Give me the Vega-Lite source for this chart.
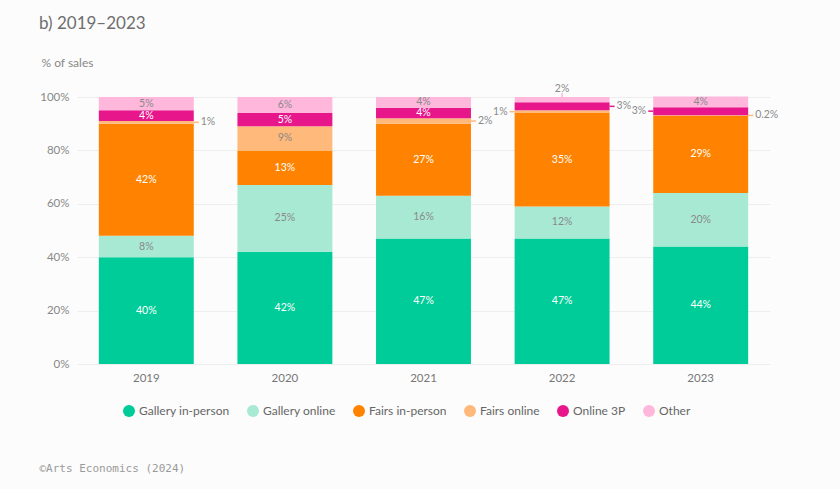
{
  "$schema": "https://vega.github.io/schema/vega-lite/v6.json",
  "width": 693,
  "height": 267,
  "autosize": "none",
  "padding": {"left": 77, "top": 97, "right": 70, "bottom": 125},
  "background": "#fcfcfc",
  "config": {"view": {"stroke": null}},
  "title": {"text": "b) 2019–2023", "anchor": "start", "frame": "group", "dx": -38, "offset": 23, "font": "Lato", "fontSize": 17, "fontWeight": "normal", "color": "#6e6e6e"},
  "data": {"values": [
    {"year": "2019", "cat": "Gallery in-person", "value": 40},
    {"year": "2019", "cat": "Gallery online", "value": 8},
    {"year": "2019", "cat": "Fairs in-person", "value": 42},
    {"year": "2019", "cat": "Fairs online", "value": 1},
    {"year": "2019", "cat": "Online 3P", "value": 4},
    {"year": "2019", "cat": "Other", "value": 5},
    {"year": "2020", "cat": "Gallery in-person", "value": 42},
    {"year": "2020", "cat": "Gallery online", "value": 25},
    {"year": "2020", "cat": "Fairs in-person", "value": 13},
    {"year": "2020", "cat": "Fairs online", "value": 9},
    {"year": "2020", "cat": "Online 3P", "value": 5},
    {"year": "2020", "cat": "Other", "value": 6},
    {"year": "2021", "cat": "Gallery in-person", "value": 47},
    {"year": "2021", "cat": "Gallery online", "value": 16},
    {"year": "2021", "cat": "Fairs in-person", "value": 27},
    {"year": "2021", "cat": "Fairs online", "value": 2},
    {"year": "2021", "cat": "Online 3P", "value": 4},
    {"year": "2021", "cat": "Other", "value": 4},
    {"year": "2022", "cat": "Gallery in-person", "value": 47},
    {"year": "2022", "cat": "Gallery online", "value": 12},
    {"year": "2022", "cat": "Fairs in-person", "value": 35},
    {"year": "2022", "cat": "Fairs online", "value": 1},
    {"year": "2022", "cat": "Online 3P", "value": 3},
    {"year": "2022", "cat": "Other", "value": 2},
    {"year": "2023", "cat": "Gallery in-person", "value": 44},
    {"year": "2023", "cat": "Gallery online", "value": 20},
    {"year": "2023", "cat": "Fairs in-person", "value": 29},
    {"year": "2023", "cat": "Fairs online", "value": 0.2},
    {"year": "2023", "cat": "Online 3P", "value": 3},
    {"year": "2023", "cat": "Other", "value": 4}
  ]},
  "transform": [
    {"calculate": "indexof(['Gallery in-person','Gallery online','Fairs in-person','Fairs online','Online 3P','Other'], datum.cat)", "as": "ord"},
    {"stack": "value", "groupby": ["year"], "sort": [{"field": "ord", "order": "ascending"}], "as": ["y0", "y1"]},
    {"calculate": "(datum.y0 + datum.y1) / 2", "as": "mid"},
    {"calculate": "datum.value + '%'", "as": "label"}
  ],
  "layer": [
    {
      "mark": {"type": "bar"},
      "encoding": {
        "x": {"field": "year", "type": "nominal", "scale": {"paddingInner": 0.315, "paddingOuter": 0.1575},
          "axis": {"title": "©Arts Economics (2024)", "titleX": -38, "titleY": 104, "titleAlign": "left", "titleBaseline": "middle", "titleFont": "DejaVu Sans Mono", "titleFontSize": 11, "titleFontWeight": "normal", "titleColor": "#9a9a9a", "labelAngle": 0, "labelFont": "Lato", "labelFontSize": 11.5, "labelColor": "#777777", "labelPadding": 8, "ticks": false, "domain": false}},
        "y": {"field": "y0", "type": "quantitative", "scale": {"domain": [0, 100], "nice": false},
          "axis": {"values": [0, 20, 40, 60, 80, 100], "labelExpr": "datum.value + '%'", "grid": true, "gridColor": "#eeeeee", "domain": false, "ticks": false, "labelPadding": 8, "labelFont": "Lato", "labelFontSize": 11.5, "labelColor": "#888888", "title": "% of sales", "titleAngle": 0, "titleX": -36, "titleY": -35, "titleAlign": "left", "titleBaseline": "middle", "titleFont": "Lato", "titleFontSize": 12, "titleFontWeight": "normal", "titleColor": "#888888"}},
        "y2": {"field": "y1"},
        "color": {"field": "cat", "type": "nominal",
          "scale": {"domain": ["Gallery in-person", "Gallery online", "Fairs in-person", "Fairs online", "Online 3P", "Other"], "range": ["#00cc99", "#a8e9d4", "#ff8300", "#ffb97a", "#e8168b", "#ffb7dc"]},
          "legend": {"title": null, "orient": "none", "legendX": 46, "legendY": 308, "direction": "horizontal", "symbolType": "circle", "symbolSize": 144, "labelFont": "Lato", "labelFontSize": 12, "labelColor": "#666666", "columnPadding": 17, "labelOffset": 4, "symbolStrokeWidth": 0}}
      }
    },
    {
      "transform": [{"filter": "datum.value >= 4 && indexof(['Gallery in-person','Fairs in-person','Online 3P'], datum.cat) >= 0"}],
      "mark": {"type": "text", "font": "Lato", "fontSize": 10.5, "color": "#ffffff", "baseline": "middle"},
      "encoding": {
        "x": {"field": "year", "type": "nominal"},
        "y": {"field": "mid", "type": "quantitative", "scale": {"domain": [0, 100], "nice": false}},
        "text": {"field": "label"}
      }
    },
    {
      "transform": [{"filter": "datum.value >= 4 && indexof(['Gallery online','Fairs online','Other'], datum.cat) >= 0"}],
      "mark": {"type": "text", "font": "Lato", "fontSize": 10.5, "color": "#8a8a8a", "baseline": "middle"},
      "encoding": {
        "x": {"field": "year", "type": "nominal"},
        "y": {"field": "mid", "type": "quantitative", "scale": {"domain": [0, 100], "nice": false}},
        "text": {"field": "label"}
      }
    },
    {
      "transform": [{"filter": "datum.value < 4 && !((datum.year == '2022' && datum.cat == 'Fairs online') || (datum.year == '2023' && datum.cat == 'Online 3P') || (datum.year == '2022' && datum.cat == 'Other'))"}],
      "mark": {"type": "rule", "x2Offset": 5, "strokeWidth": 1.5},
      "encoding": {
        "x": {"field": "year", "type": "nominal", "bandPosition": 1},
        "x2": {"field": "year", "bandPosition": 1},
        "y": {"field": "mid", "type": "quantitative", "scale": {"domain": [0, 100], "nice": false}},
        "color": {"condition": {"test": "datum.cat == 'Online 3P'", "value": "#e8168b"}, "value": "#ffb97a"}
      }
    },
    {
      "transform": [{"filter": "datum.value < 4 && !((datum.year == '2022' && datum.cat == 'Fairs online') || (datum.year == '2023' && datum.cat == 'Online 3P') || (datum.year == '2022' && datum.cat == 'Other'))"}],
      "mark": {"type": "text", "font": "Lato", "fontSize": 10.5, "color": "#8a8a8a", "align": "left", "baseline": "middle", "dx": 7},
      "encoding": {
        "x": {"field": "year", "type": "nominal", "bandPosition": 1},
        "y": {"field": "mid", "type": "quantitative", "scale": {"domain": [0, 100], "nice": false}},
        "text": {"field": "label"}
      }
    },
    {
      "transform": [{"filter": "(datum.year == '2022' && datum.cat == 'Fairs online') || (datum.year == '2023' && datum.cat == 'Online 3P')"}],
      "mark": {"type": "rule", "x2Offset": -5, "strokeWidth": 1.5},
      "encoding": {
        "x": {"field": "year", "type": "nominal", "bandPosition": 0},
        "x2": {"field": "year", "bandPosition": 0},
        "y": {"field": "mid", "type": "quantitative", "scale": {"domain": [0, 100], "nice": false}},
        "color": {"condition": {"test": "datum.cat == 'Online 3P'", "value": "#e8168b"}, "value": "#ffb97a"}
      }
    },
    {
      "transform": [{"filter": "(datum.year == '2022' && datum.cat == 'Fairs online') || (datum.year == '2023' && datum.cat == 'Online 3P')"}],
      "mark": {"type": "text", "font": "Lato", "fontSize": 10.5, "color": "#8a8a8a", "align": "right", "baseline": "middle", "dx": -7},
      "encoding": {
        "x": {"field": "year", "type": "nominal", "bandPosition": 0},
        "y": {"field": "mid", "type": "quantitative", "scale": {"domain": [0, 100], "nice": false}},
        "text": {"field": "label"}
      }
    },
    {
      "transform": [{"filter": "datum.year == '2022' && datum.cat == 'Other'"}],
      "mark": {"type": "rule", "y2Offset": -4, "strokeWidth": 1.5, "color": "#ffb7dc"},
      "encoding": {
        "x": {"field": "year", "type": "nominal"},
        "y": {"field": "y1", "type": "quantitative", "scale": {"domain": [0, 100], "nice": false}},
        "y2": {"field": "y1"}
      }
    },
    {
      "transform": [{"filter": "datum.year == '2022' && datum.cat == 'Other'"}],
      "mark": {"type": "text", "font": "Lato", "fontSize": 10.5, "color": "#8a8a8a", "baseline": "middle", "dy": -8},
      "encoding": {
        "x": {"field": "year", "type": "nominal"},
        "y": {"field": "y1", "type": "quantitative", "scale": {"domain": [0, 100], "nice": false}},
        "text": {"field": "label"}
      }
    }
  ]
}
